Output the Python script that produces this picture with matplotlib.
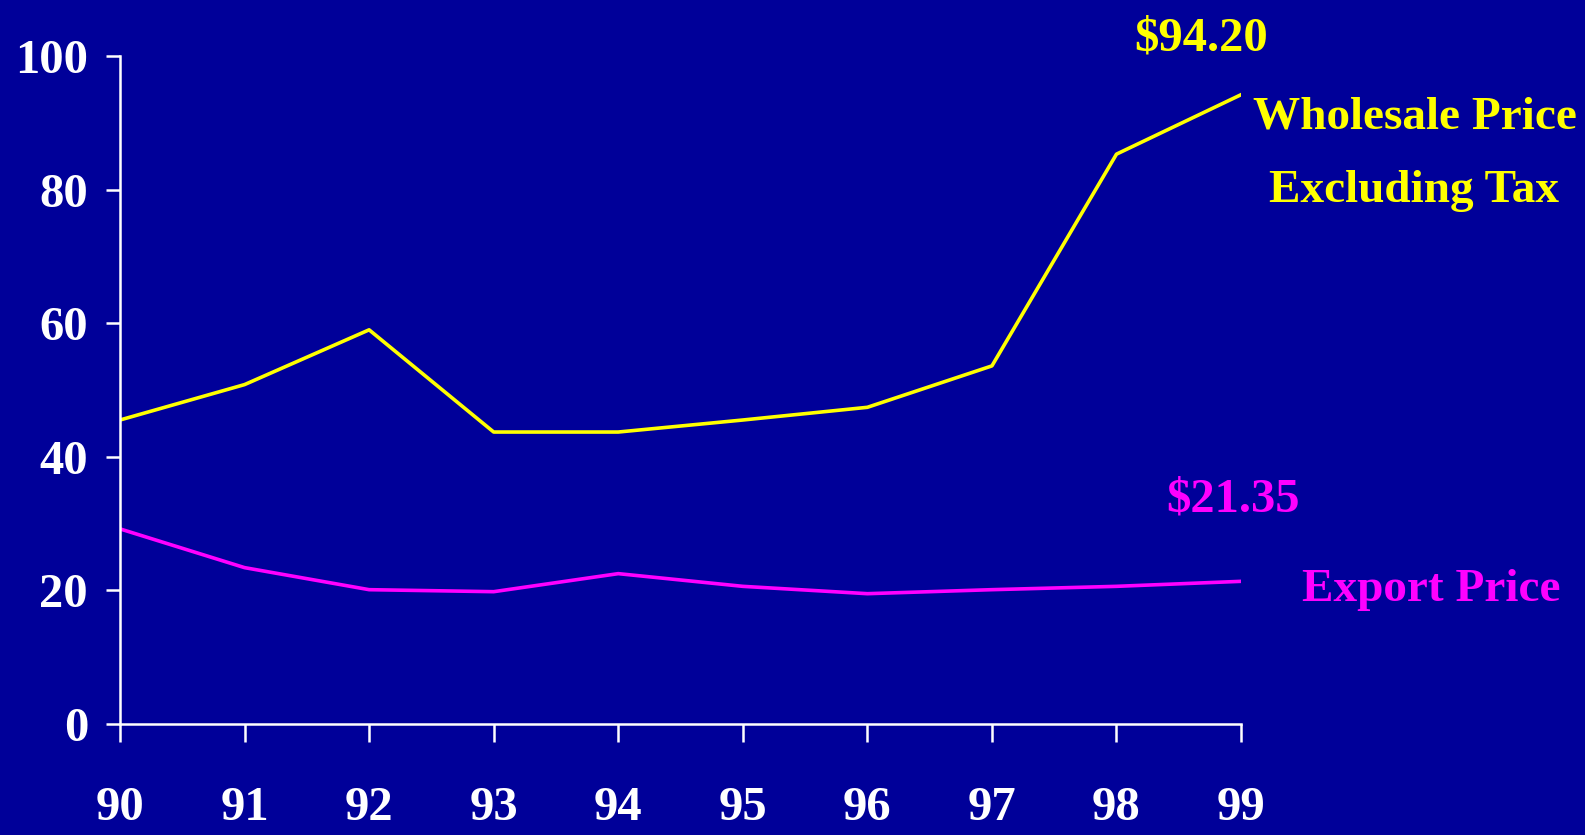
import matplotlib
matplotlib.use("Agg")
import matplotlib.pyplot as plt

# Years and prices
years = [90, 91, 92, 93, 94, 95, 96, 97, 98, 99]
year_labels = ["90", "91", "92", "93", "94", "95", "96", "97", "98", "99"]
wholesale = [45.5, 50.8, 59.0, 43.7, 43.7, 45.5, 47.4, 53.6, 85.3, 94.2]
export = [29.2, 23.4, 20.1, 19.8, 22.5, 20.6, 19.5, 20.1, 20.6, 21.35]
y_ticks = [0, 20, 40, 60, 80, 100]

bg = "#000099"
yellow = "#FFFF00"
magenta = "#FF00FF"

plt.rcParams["font.family"] = ["Liberation Serif", "DejaVu Serif"]
plt.rcParams["font.weight"] = "bold"

fig = plt.figure(figsize=(15.85, 8.35), dpi=100, facecolor=bg)
ax = fig.add_axes([0.0757, 0.133, 0.7073, 0.80])
ax.set_facecolor(bg)

# Lines
ax.plot(years, wholesale, color=yellow, linewidth=2.6)
ax.plot(years, export, color=magenta, linewidth=2.6)

ax.set_xlim(90, 99)
ax.set_ylim(0, 100)
ax.set_xticks(years)
ax.set_xticklabels(year_labels)
ax.set_yticks(y_ticks)

for side in ["top", "right"]:
    ax.spines[side].set_visible(False)
for side in ["left", "bottom"]:
    ax.spines[side].set_color("white")
    ax.spines[side].set_linewidth(1.8)

ax.tick_params(axis="x", colors="white", direction="out", length=13, width=1.8,
               pad=32, labelsize=35)
ax.tick_params(axis="y", colors="white", direction="out", length=10, width=1.8,
               pad=13, labelsize=35)
for lab in ax.get_xticklabels() + ax.get_yticklabels():
    lab.set_fontweight("bold")

# Labels on the right
fig.text(0.758, 0.939, "$94.20", color=yellow, fontsize=35, fontweight="bold",
         ha="center", va="baseline")
fig.text(0.893, 0.846, "Wholesale Price", color=yellow, fontsize=34,
         fontweight="bold", ha="center", va="baseline")
fig.text(0.892, 0.758, "Excluding Tax", color=yellow, fontsize=34,
         fontweight="bold", ha="center", va="baseline")
fig.text(0.778, 0.387, "$21.35", color=magenta, fontsize=35, fontweight="bold",
         ha="center", va="baseline")
fig.text(0.903, 0.280, "Export Price", color=magenta, fontsize=34,
         fontweight="bold", ha="center", va="baseline")

fig.savefig("out.png", dpi=100, facecolor=bg)
